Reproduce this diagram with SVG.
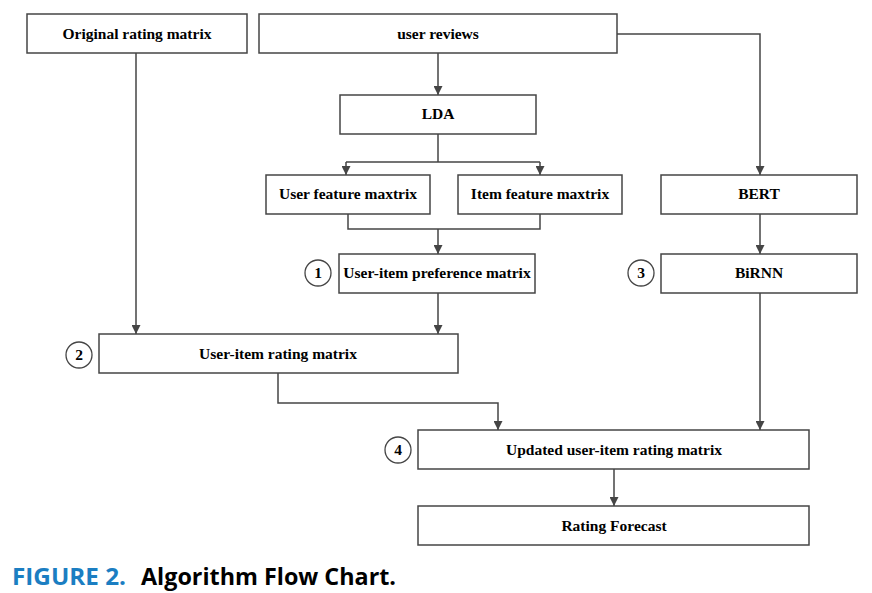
<svg xmlns="http://www.w3.org/2000/svg" width="872" height="593" viewBox="0 0 872 593">
<style>
.box{fill:#fff;stroke:#454545;stroke-width:1.5}
.t{font-family:"Liberation Serif",serif;font-weight:bold;font-size:15.5px;fill:#000;text-anchor:middle}
.c{fill:#fff;stroke:#454545;stroke-width:1.3}
.ct{font-family:"Liberation Serif",serif;font-weight:bold;font-size:15.5px;fill:#000;text-anchor:middle}
.ln{fill:none;stroke:#454545;stroke-width:1.5}
.cap{font-family:"Open Sans","Liberation Sans",sans-serif;font-weight:bold;font-size:24px}
</style>
<defs>
<marker id="ah" viewBox="0 0 10 10" refX="10" refY="5" markerWidth="10" markerHeight="9" markerUnits="userSpaceOnUse" orient="auto">
<path d="M0,0 L10,5 L0,10 z" fill="#454545"/>
</marker>
</defs>
<rect width="872" height="593" fill="#fff"/>
<g id="connectors">
<path class="ln" d="M136,53 V334" marker-end="url(#ah)"/>
<path class="ln" d="M438,53 V95" marker-end="url(#ah)"/>
<path class="ln" d="M617,34 H760 V175" marker-end="url(#ah)"/>
<path class="ln" d="M438,134 V162 M346,162 H540"/>
<path class="ln" d="M346,162 V175" marker-end="url(#ah)"/>
<path class="ln" d="M540,162 V175" marker-end="url(#ah)"/>
<path class="ln" d="M348,214 V229 H540 V214"/>
<path class="ln" d="M438,229 V254" marker-end="url(#ah)"/>
<path class="ln" d="M760,214 V254" marker-end="url(#ah)"/>
<path class="ln" d="M438,293 V334" marker-end="url(#ah)"/>
<path class="ln" d="M278,373 V403 H498 V430" marker-end="url(#ah)"/>
<path class="ln" d="M760,293 V430" marker-end="url(#ah)"/>
<path class="ln" d="M614,469 V506" marker-end="url(#ah)"/>
</g>
<g id="original"><rect class="box" x="27" y="14" width="220" height="39"/><text class="t" x="137" y="39">Original rating matrix</text></g>
<g id="reviews"><rect class="box" x="259" y="14" width="358" height="39"/><text class="t" x="438" y="39">user reviews</text></g>
<g id="lda"><rect class="box" x="340" y="95" width="196" height="39"/><text class="t" x="438" y="119">LDA</text></g>
<g id="userfeat"><rect class="box" x="266" y="175" width="164" height="39"/><text class="t" x="348" y="199">User feature maxtrix</text></g>
<g id="itemfeat"><rect class="box" x="458" y="175" width="164" height="39"/><text class="t" x="540" y="199">Item feature maxtrix</text></g>
<g id="bert"><rect class="box" x="661" y="175" width="196" height="39"/><text class="t" x="759" y="199">BERT</text></g>
<g id="pref"><rect class="box" x="339" y="254" width="196" height="39"/><text class="t" x="437" y="278">User-item preference matrix</text>
<circle class="c" cx="318" cy="273" r="13"/><text class="ct" x="318" y="278">1</text></g>
<g id="birnn"><rect class="box" x="661" y="254" width="196" height="39"/><text class="t" x="759" y="278">BiRNN</text>
<circle class="c" cx="641" cy="273" r="13"/><text class="ct" x="641" y="278">3</text></g>
<g id="rating"><rect class="box" x="99" y="334" width="359" height="39"/><text class="t" x="278" y="359">User-item rating matrix</text>
<circle class="c" cx="79" cy="355" r="13"/><text class="ct" x="79" y="360">2</text></g>
<g id="updated"><rect class="box" x="418" y="430" width="391" height="39"/><text class="t" x="614" y="455">Updated user-item rating matrix</text>
<circle class="c" cx="398" cy="450" r="13"/><text class="ct" x="398" y="455">4</text></g>
<g id="forecast"><rect class="box" x="418" y="506" width="391" height="39"/><text class="t" x="614" y="531">Rating Forecast</text></g>
<g id="caption">
<text class="cap" x="12" y="585" fill="#1b7ec2" textLength="114" lengthAdjust="spacingAndGlyphs">FIGURE 2.</text>
<text class="cap" x="141" y="585" fill="#000" textLength="255" lengthAdjust="spacingAndGlyphs">Algorithm Flow Chart.</text>
</g>
</svg>
